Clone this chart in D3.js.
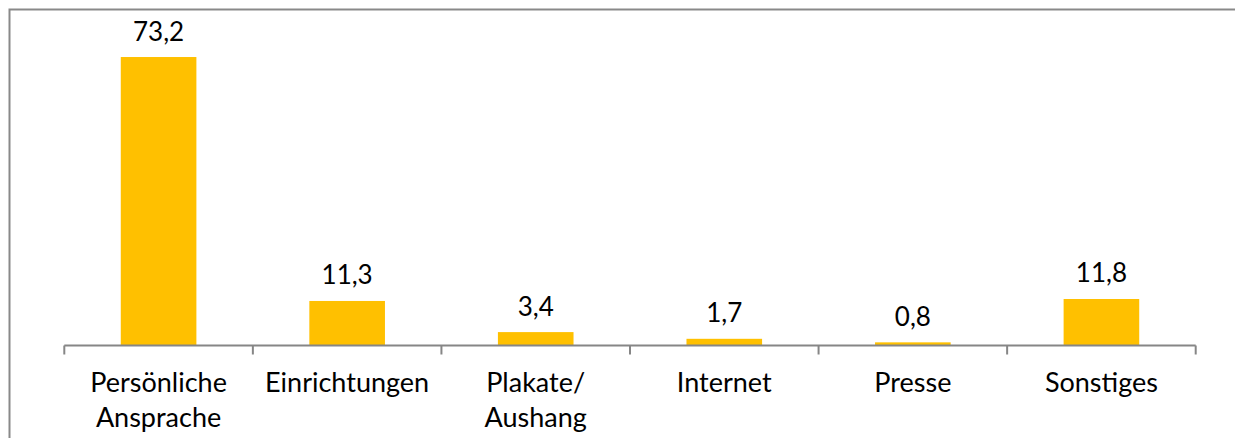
<!DOCTYPE html>
<html>
<head>
<meta charset="utf-8">
<script src="https://cdnjs.cloudflare.com/ajax/libs/d3/7.8.5/d3.min.js"></script>
<style>
  body { margin: 0; background: #fff; }
  svg text { font-family: Lato, "Open Sans", sans-serif; fill: #000; }
</style>
</head>
<body>
<script>
var categories = ["Persönliche Ansprache", "Einrichtungen", "Plakate/ Aushang", "Internet", "Presse", "Sonstiges"]
var labelLines = [["Persönliche", "Ansprache"], ["Einrichtungen"], ["Plakate/", "Aushang"], ["Internet"], ["Presse"], ["Sonstiges"]]
var values = [73.2, 11.3, 3.4, 1.7, 0.8, 11.8]
var valueLabels = ["73,2", "11,3", "3,4", "1,7", "0,8", "11,8"]

var width = 1235, height = 438
var axisY = 345.5

var svg = d3.select("body").append("svg")
    .attr("width", width)
    .attr("height", height)

// outer frame (only top and left visible)
svg.append("path")
    .attr("d", "M9.5,438 V9.5 H1235")
    .attr("fill", "none")
    .attr("stroke", "#898989")
    .attr("stroke-width", 2)

var x = d3.scaleBand().domain(categories).range([64.3, 1195.7]).paddingInner(0).paddingOuter(0)
var y = d3.scaleLinear().domain([0, 80]).range([axisY, axisY - 80 * 3.941])

var barW = x.bandwidth() * 0.401

svg.selectAll("rect.bar")
    .data(values)
    .enter()
    .append("rect")
    .attr("class", "bar")
    .attr("x", function(d, i) { return x(categories[i]) + x.bandwidth() / 2 - barW / 2 })
    .attr("y", function(d) { return y(d) })
    .attr("width", barW)
    .attr("height", function(d) { return axisY - y(d) })
    .attr("fill", "#FFC000")

svg.selectAll("text.val")
    .data(values)
    .enter()
    .append("text")
    .attr("class", "val")
    .attr("x", function(d, i) { return x(categories[i]) + x.bandwidth() / 2 })
    .attr("y", function(d) { return y(d) - 16.5 })
    .attr("text-anchor", "middle")
    .attr("font-size", 26)
    .text(function(d, i) { return valueLabels[i] })

// axis line and tick marks at band boundaries
var bounds = categories.map(function(c) { return x(c) }).concat([x.range()[1]])
svg.append("line")
    .attr("x1", x.range()[0]).attr("x2", x.range()[1])
    .attr("y1", axisY).attr("y2", axisY)
    .attr("stroke", "#868686").attr("stroke-width", 2)
svg.selectAll("line.tick")
    .data(bounds)
    .enter()
    .append("line")
    .attr("class", "tick")
    .attr("x1", function(d) { return d }).attr("x2", function(d) { return d })
    .attr("y1", axisY).attr("y2", axisY + 9)
    .attr("stroke", "#868686").attr("stroke-width", 2)

var lab = svg.selectAll("text.cat")
    .data(labelLines)
    .enter()
    .append("text")
    .attr("class", "cat")
    .attr("text-anchor", "middle")
    .attr("font-size", 27)
lab.selectAll("tspan")
    .data(function(d, i) { return d.map(function(t) { return { t: t, i: i } }) })
    .enter()
    .append("tspan")
    .attr("x", function(d) { return x(categories[d.i]) + x.bandwidth() / 2 })
    .attr("y", function(d, j) { return 391.7 + j * 35 })
    .text(function(d) { return d.t })
</script>
</body>
</html>
